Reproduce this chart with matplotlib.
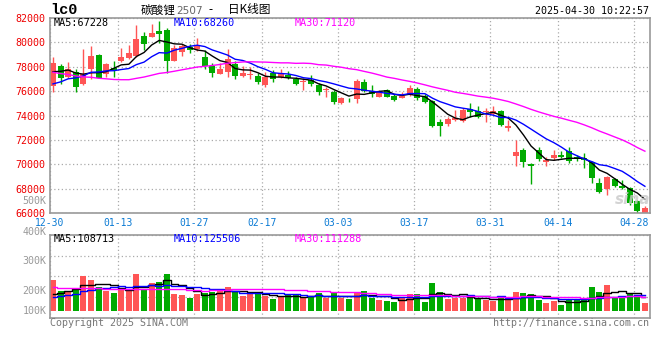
import numpy as np
import pandas as pd
import matplotlib
matplotlib.use("Agg")
import matplotlib.pyplot as plt

# daily bars of lc0 (碳酸锂2507), 2024-12-30 .. 2025-04-29
opens = [76430, 78070, 77130, 77600, 76570, 77830, 78980, 77390, 77910, 78480,
         78700, 78920, 80530, 80480, 80940, 81030, 78510, 79200, 79600, 79500,
         78840, 78070, 77420, 77600, 78240, 77250, 77330, 77250, 76520, 77470,
         77200, 77340, 76980, 76770, 76930, 76520, 76080, 75970, 75020, 75300,
         75340, 76760, 76050, 75560, 76110, 75620, 75480, 75700, 76160, 75620,
         75200, 73460, 73320, 73650, 73570, 74530, 74390, 74280, 74140, 74410,
         72990, 70720, 71190, 70040, 71190, 70180, 70560, 70780, 71110, 70590,
         70560, 70230, 68460, 67970, 68810, 68260, 68050, 67010, 66000]
highs = [78790, 78240, 78400, 77800, 79460, 79710, 79060, 78320, 78480, 79520,
         79800, 81430, 80860, 81520, 81790, 81160, 79800, 79900, 79900, 80400,
         79385, 78345, 78300, 79470, 78510, 78070, 77970, 77530, 77610, 77750,
         77830, 77660, 77200, 77070, 77360, 76660, 76380, 76110, 75530, 75430,
         77010, 77010, 76520, 76110, 76190, 75780, 75970, 76520, 76350, 75780,
         75290, 73730, 73920, 74470, 74610, 75020, 74800, 74610, 74800, 74470,
         73650, 72010, 71350, 70100, 71430, 70590, 71190, 71130, 71460, 70780,
         70970, 70310, 68870, 69060, 68870, 68730, 68130, 67090, 66600]
lows = [75920, 76600, 77050, 75970, 76520, 77010, 77050, 77170, 77200, 78400,
        78650, 78810, 79390, 80450, 79960, 77470, 78480, 78900, 79100, 79300,
        77800, 77200, 77400, 77200, 77010, 77150, 77010, 76620, 76380, 76790,
        77090, 76980, 76520, 76110, 76430, 75700, 75560, 74930, 74960, 75150,
        75020, 75970, 75560, 75510, 75510, 75200, 75430, 75620, 75290, 75040,
        73100, 72340, 73160, 73570, 73480, 73920, 73810, 73510, 74060, 73160,
        72770, 69900, 69820, 68380, 70290, 69900, 70370, 70510, 70100, 70290,
        69690, 68460, 67640, 67500, 68180, 67970, 66680, 66050, 66000]
closes = [78345, 77050, 77830, 76380, 77390, 78890, 77120, 78210, 77750, 78830,
          79160, 80290, 79850, 80800, 80720, 78510, 79530, 79700, 79400, 79750,
          78070, 77475, 77830, 78650, 77280, 77520, 77380, 76760, 77200, 76980,
          77470, 77070, 76600, 76800, 76600, 75970, 76190, 75150, 75430, 75260,
          76820, 76050, 75780, 76020, 75560, 75290, 75620, 76290, 75430, 75150,
          73150, 73180, 73700, 73840, 74470, 74330, 73870, 74320, 74410, 73240,
          73150, 71050, 70230, 69880, 70450, 70370, 70780, 70640, 70310, 70430,
          70370, 68870, 67720, 69000, 68260, 68050, 66820, 66190, 66410]
# volume in K
volumes = [237, 200, 201, 211, 251, 237, 214, 200, 194, 211,
           203, 257, 203, 228, 231, 258, 190, 187, 178, 190,
           194, 198, 200, 213, 200, 184, 190, 197, 184, 173,
           181, 187, 190, 176, 183, 194, 178, 192, 178, 173,
           197, 200, 178, 170, 167, 163, 178, 190, 190, 163,
           227, 197, 173, 178, 178, 178, 173, 170, 167, 180,
           170, 197, 193, 190, 170, 160, 167, 153, 170, 170,
           170, 214, 198, 220, 181, 180, 192, 187, 161]

# estimated values before the window, only to seed the moving averages
prev_closes = [80400, 80100, 79900, 79800, 79700, 79600, 79500, 79400, 79400, 79200,
               76900, 76600, 76400, 76200, 76300, 76400, 76200, 76100, 76300, 76300,
               75400, 75300, 75600, 75800, 75900, 76900, 77300, 77600, 77860]
prev_volumes = [240, 235, 230, 232, 228, 225, 238, 226, 220, 230,
                224, 222, 230, 218, 226, 228, 220, 224, 226, 228,
                170, 175, 168, 172, 175, 180, 176, 178, 179]

date_idx = [0, 9, 19, 28, 38, 48, 58, 67, 77]
date_labels = ["12-30", "01-13", "01-27", "02-17", "03-03", "03-17", "03-31", "04-14", "04-28"]
price_ticks = list(range(66000, 82001, 2000))
vol_labels = ["500K", "400K", "300K", "200K", "100K"]
vol_label_at = [500, 396, 300, 200, 134]
price_ma_text = ["MA5:67228", "MA10:68260", "MA30:71120"]
vol_ma_text = ["MA5:108713", "MA10:125506", "MA30:111288"]

RED, GREEN = "#ff5555", "#00aa00"
MA_COLORS = ["black", "#0000ff", "#ff00ff"]
GRID = dict(color="#aaaaaa", linestyle=(0, (1, 2)), linewidth=0.9)
MONO = "DejaVu Sans Mono"
W, H = 660, 360


def box(left, top, right, bottom):
    return [left / W, 1 - bottom / H, (right - left) / W, (bottom - top) / H]


def px(x, y):
    return x / W, 1 - y / H


def moving_averages(prev, vals):
    s = pd.Series(prev + vals, dtype=float)
    n0 = len(prev)
    return [s.rolling(n).mean().iloc[n0:].to_numpy() for n in (5, 10, 30)]


o, h, l, c = map(np.array, (opens, highs, lows, closes))
x = np.arange(len(c))
up = c >= o
colors = np.where(up, RED, GREEN)
bw = 0.79
xc = x + bw / 2

fig = plt.figure(figsize=(6.6, 3.6), dpi=100)
ax = fig.add_axes(box(50, 18, 649.5, 213.3))
axv = fig.add_axes(box(50, 234.7, 649.5, 318.3))

for a in (ax, axv):
    for sp in a.spines.values():
        sp.set_color("#999999")
        sp.set_linewidth(1.2)
    a.set_xlim(0, len(c))
    a.set_xticks(date_idx)
    a.grid(True, **GRID)
    a.set_axisbelow(True)
    a.tick_params(length=0)

# price panel
ax.vlines(xc, l, h, colors=colors, linewidth=1)
body = np.maximum(np.abs(c - o), 60)
ax.bar(x, body, bottom=np.minimum(o, c), width=bw, align="edge", color=colors, linewidth=0)
for ma, col in zip(moving_averages(prev_closes, closes), MA_COLORS):
    ax.plot(xc, ma, color=col, linewidth=1)
ax.set_ylim(66000, 82000)
ax.set_yticks(price_ticks)
ax.set_yticklabels([str(t) for t in price_ticks], color="#ee0000", fontsize=7.2, family=MONO)
ax.set_xticklabels(date_labels, color="#0a7ad4", fontsize=7.0, family=MONO)
ax.tick_params(axis="x", pad=3.2)
ax.tick_params(axis="y", pad=3)

# volume panel
v = np.array(volumes, dtype=float)
vbase = 133
axv.bar(x, v - vbase, bottom=vbase, width=bw, align="edge", color=colors, linewidth=0)
for ma, col in zip(moving_averages(prev_volumes, volumes), MA_COLORS):
    axv.plot(xc, ma, color=col, linewidth=1, drawstyle="steps-mid")
vlo, vhi = 109, 387.7
axv.set_ylim(vlo, vhi)
axv.set_yticks(np.linspace(vlo, vhi, 5))
axv.set_yticklabels([])
axv.set_xticklabels([])
for lab, val in zip(vol_labels, vol_label_at):
    axv.text(-0.006, val, lab, transform=axv.get_yaxis_transform(), ha="right", va="center",
             color="#999999", fontsize=7.2, family=MONO, clip_on=False)

# texts
for txt, xp, col in zip(price_ma_text, (54, 174, 295), MA_COLORS):
    fig.text(*px(xp, 23.5), txt, color=col, fontsize=7.3, family=MONO, ha="left", va="center")
for txt, xp, col in zip(vol_ma_text, (54, 174, 295), MA_COLORS):
    fig.text(*px(xp, 238.5), txt, color=col, fontsize=7.3, family=MONO, ha="left", va="center")

fig.text(*px(50, 10.5), "lc0", fontsize=11, weight="bold", family="Liberation Mono", ha="left", va="center")
cjk = ["Noto Sans CJK SC", "DejaVu Sans"]
fig.text(*px(141, 10), "碳酸锂", fontsize=8.4, family=cjk, ha="left", va="center")
fig.text(*px(176.5, 10.5), "2507", fontsize=7.6, family="DejaVu Sans", color="#666666", ha="left", va="center")
fig.text(*px(210, 10), "-", fontsize=8.4, family=cjk, ha="center", va="center")
fig.text(*px(227.5, 10), "日K线图", fontsize=8.4, family=cjk, ha="left", va="center")
fig.text(*px(649, 11.5), "2025-04-30 10:22:57", fontsize=7.2, family=MONO, ha="right", va="center")

fig.text(*px(50, 323), "Copyright 2025 SINA.COM", fontsize=7.2, family=MONO, color="#777777",
         ha="left", va="center")
fig.text(*px(649, 323.5), "http://finance.sina.com.cn", fontsize=7.2, family=MONO, color="#777777",
         ha="right", va="center")
fig.text(*px(633, 200), "sina", fontsize=11, style="italic", weight="bold", color="#c8c8c8",
         alpha=0.8, ha="center", va="center")

fig.savefig("out.png", dpi=100)
